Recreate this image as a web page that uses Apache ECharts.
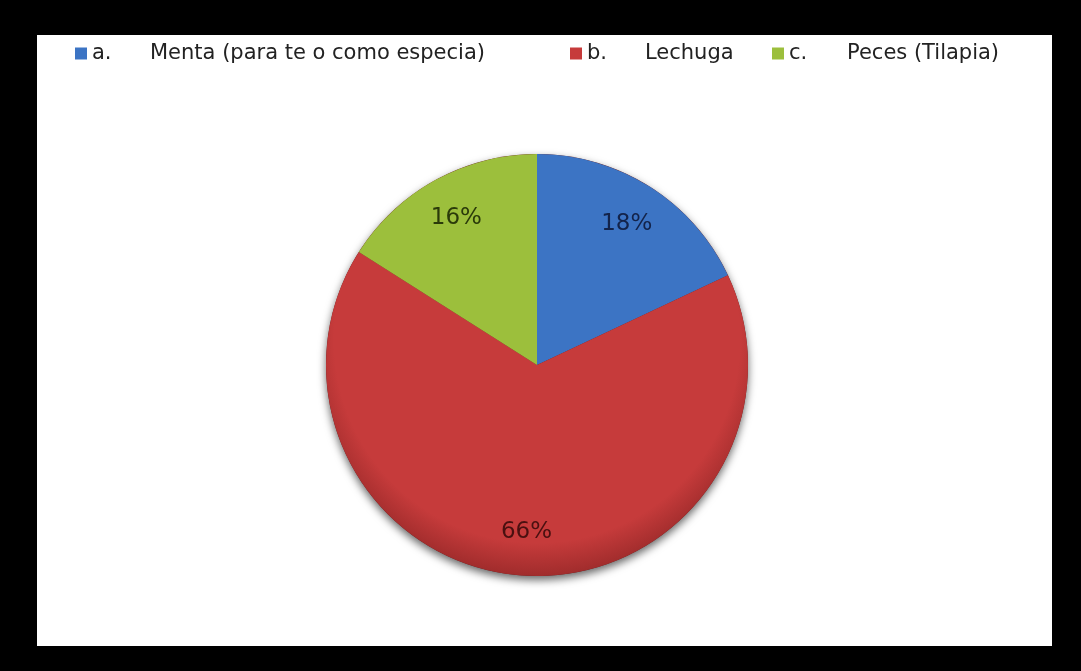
<!DOCTYPE html>
<html><head><meta charset="utf-8">
<script src="https://cdn.jsdelivr.net/npm/echarts@6/dist/echarts.min.js"></script>
<style>html,body{margin:0;padding:0;background:#000;}#c{width:1081px;height:671px;}</style>
</head><body><div id="c"></div>
<script>
var prefixes = ['a.', 'b.', 'c.'];
var labels = ['Menta (para te o como especia)', 'Lechuga', 'Peces (Tilapia)'];
var categories = prefixes.map(function (p, i) { return p + '|' + labels[i]; });
var values = [18, 66, 16];
var colors = ['#3c74c4', '#c63b3b', '#9cbf3c'];
var rimColors = ['#2f5ea3', '#a02c2c', '#7f9c2e'];
var labelColors = ['#13234a', '#4a1010', '#2a3a0a'];

var chart = echarts.init(document.getElementById('c'));
var fontFam = '"DejaVu Sans", "Open Sans", sans-serif';
var center = [537, 365], R = 211;
var total = values.reduce(function (a, b) { return a + b; }, 0);
var data = categories.map(function (n, i) {
  return { name: n, value: values[i],
    itemStyle: { color: new echarts.graphic.RadialGradient(center[0], center[1] - 25, R + 25, [
      { offset: 0, color: colors[i] }, { offset: 0.86, color: colors[i] },
      { offset: 1, color: rimColors[i] }], true) } };
});
var txt = { fontSize: 21, fontFamily: fontFam, color: '#222' };
var legendLefts = [70, 565, 767];
chart.setOption({
  backgroundColor: '#000',
  animation: false,
  color: colors,
  graphic: [{ type: 'rect', shape: { x: 37, y: 35, width: 1015, height: 611 }, style: { fill: '#fff' }, z: -10 }],
  legend: categories.map(function (c, i) {
    return {
      left: legendLefts[i], top: 38, itemWidth: 12, itemHeight: 12, itemGap: 5,
      icon: 'rect', data: [{ name: c, itemStyle: { color: colors[i] } }], selectedMode: false,
      formatter: function (n) { var p = n.split('|'); return '{a|' + p[0] + '}{b|' + p[1] + '}'; },
      textStyle: Object.assign({ rich: { a: Object.assign({ width: 58 }, txt), b: txt } }, txt)
    };
  }),
  series: [{
    type: 'pie', center: center, radius: R, startAngle: 90, z: 1,
    data: [{ name: 'total', value: total }],
    itemStyle: { color: '#6a1c1c', shadowColor: 'rgba(0,0,0,0.6)', shadowBlur: 8, shadowOffsetY: 4 },
    label: { show: false }, labelLine: { show: false }, silent: true, legendHoverLink: false,
    emphasis: { disabled: true }
  }, {
    type: 'pie', center: center, radius: R, startAngle: 90, clockwise: true, z: 2,
    data: data, label: { show: false }, labelLine: { show: false },
    emphasis: { disabled: true }
  }, {
    type: 'pie', center: center, radius: [118, R], startAngle: 90, clockwise: true, z: 3,
    data: categories.map(function (n, i) {
      return { name: n, value: values[i], itemStyle: { color: 'rgba(0,0,0,0)' }, label: { color: labelColors[i] } };
    }),
    label: { show: true, position: 'inside', formatter: '{d}%', fontSize: 23, fontFamily: fontFam },
    labelLine: { show: false }, silent: true, legendHoverLink: false,
    emphasis: { disabled: true }
  }]
});
</script></body></html>
